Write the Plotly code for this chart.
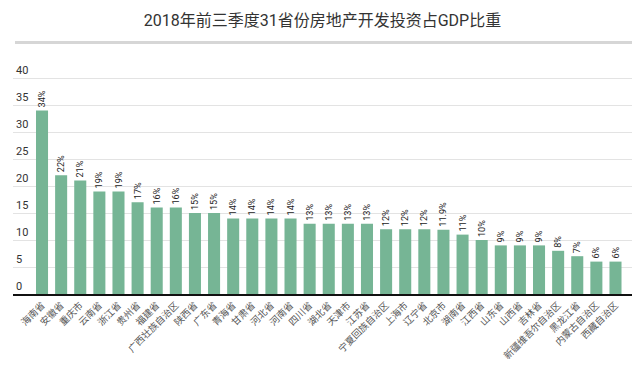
import plotly.graph_objects as go

provinces = ["海南省", "安徽省", "重庆市", "云南省", "浙江省", "贵州省", "福建省", "广西壮族自治区",
             "陕西省", "广东省", "青海省", "甘肃省", "河北省", "河南省", "四川省", "湖北省",
             "天津市", "江苏省", "宁夏回族自治区", "上海市", "辽宁省", "北京市", "湖南省", "江西省",
             "山东省", "山西省", "吉林省", "新疆维吾尔自治区", "黑龙江省", "内蒙古自治区", "西藏自治区"]
shares = [34, 22, 21, 19, 19, 17, 16, 16, 15, 15, 14, 14, 14, 14, 13, 13,
          13, 13, 12, 12, 12, 11.9, 11, 10, 9, 9, 9, 8, 7, 6, 6]
labels = [f"{v}%" for v in shares]
y_ticks = [0, 5, 10, 15, 20, 25, 30, 35, 40]

# page body adds an 8px offset; figure is sized to fit the 640x367 window
OFF = 8
W, H = 640 - OFF, 367 - OFF
L, R, T = 13 - OFF, 8, 38 - OFF
B = H - (294 - OFF)
pw = W - L - R
ph = H - T - B
slot = 19.1
xr0 = -(42 - 13) / slot
xr1 = 30 + (632 - 615.5) / slot
ppu = (294 - 78) / 40.0          # pixels per y unit
ytop = 45
ydom_top = ytop * ppu / ph

fig = go.Figure(go.Bar(
    x=provinces, y=shares, text=labels, textposition="outside",
    textangle=-90, cliponaxis=False,
    textfont=dict(size=10.5, color="#222", family="Roboto, Noto Sans CJK SC"),
    marker=dict(color="#76b595", line=dict(width=0)),
))

fig.update_layout(
    width=W, height=H, margin=dict(l=L, r=R, t=T, b=B, autoexpand=False),
    paper_bgcolor="white", plot_bgcolor="white",
    bargap=0.37, showlegend=False,
    font=dict(family="Roboto, Noto Sans CJK SC", color="#333"),
    title=dict(text="2018年前三季度31省份房地产开发投资占GDP比重",
               x=0.5, xanchor="center", xref="paper", y=1 - (20 - OFF) / H, yanchor="middle",
               font=dict(size=16, color="#333", family="Roboto, Noto Sans CJK SC")),
    uniformtext=dict(minsize=8, mode="show"),
    shapes=[dict(type="line", xref="paper", yref="paper",
                 x0=(15 - 13) / pw, x1=1,
                 y0=(294 - 42.5) / ph, y1=(294 - 42.5) / ph,
                 line=dict(color="#d6d6d6", width=3), layer="above")],
)
fig.update_xaxes(range=[xr0, xr1], tickangle=-45, showgrid=False,
                 showline=True, linecolor="#111", linewidth=2,
                 ticks="", automargin=False,
                 tickfont=dict(size=9.5, color="#555", family="Noto Sans CJK SC"))
fig.update_yaxes(range=[0, ytop], domain=[0, ydom_top], tickvals=y_ticks,
                 showgrid=True, gridcolor="#e3e3e3",
                 gridwidth=1, zeroline=False, showline=False, ticks="", automargin=False,
                 ticklabelposition="inside top",
                 tickfont=dict(size=11, color="#333", family="Roboto"))

fig.write_html("out.html")
